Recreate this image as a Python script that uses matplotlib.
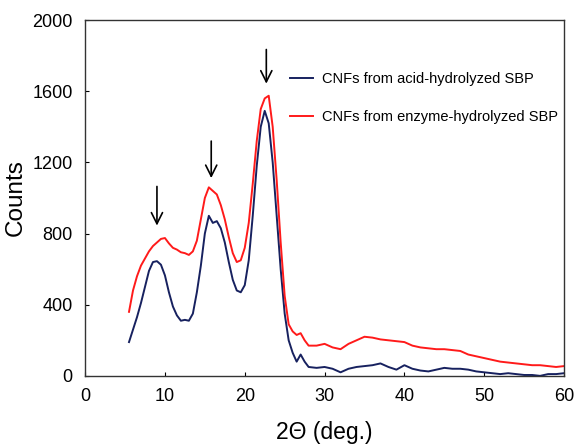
import matplotlib
matplotlib.use("Agg")
import matplotlib.pyplot as plt

plt.rcParams['font.family'] = ['Liberation Sans', 'DejaVu Sans']

acid_x = [5.5, 6, 6.5, 7, 7.5, 8, 8.5, 9, 9.5, 10, 10.5, 11, 11.5, 12, 12.5, 13, 13.5, 14, 14.5, 15,
          15.5, 16, 16.5, 17, 17.5, 18, 18.5, 19, 19.5, 20, 20.5, 21, 21.5, 22, 22.5, 23, 23.5, 24,
          24.5, 25, 25.5, 26, 26.5, 27, 27.5, 28, 29, 30, 31, 32, 33, 34, 35, 36, 37, 38, 39, 40,
          41, 42, 43, 44, 45, 46, 47, 48, 49, 50, 51, 52, 53, 54, 55, 56, 57, 58, 59, 60]
acid_y = [190, 260, 330, 410, 500, 590, 640, 645, 625, 565, 470, 390, 340, 310, 315, 310, 350, 470, 620, 800,
          900, 860, 870, 830, 750, 640, 540, 480, 470, 510, 650, 900, 1180, 1400, 1490, 1420, 1200, 900,
          600, 350, 200, 130, 80, 120, 80, 50, 45, 50, 40, 20, 40, 50, 55, 60, 70, 50, 35, 60,
          40, 30, 25, 35, 45, 40, 40, 35, 25, 20, 15, 10, 15, 10, 5, 5, 0, 10, 10, 15]

enz_x = [5.5, 6, 6.5, 7, 7.5, 8, 8.5, 9, 9.5, 10, 10.5, 11, 11.5, 12, 12.5, 13, 13.5, 14, 14.5, 15,
         15.5, 16, 16.5, 17, 17.5, 18, 18.5, 19, 19.5, 20, 20.5, 21, 21.5, 22, 22.5, 23, 23.5, 24,
         24.5, 25, 25.5, 26, 26.5, 27, 27.5, 28, 29, 30, 31, 32, 33, 34, 35, 36, 37, 38, 39, 40,
         41, 42, 43, 44, 45, 46, 47, 48, 49, 50, 51, 52, 53, 54, 55, 56, 57, 58, 59, 60]
enz_y = [360, 480, 560, 620, 660, 700, 730, 750, 770, 775, 745, 720, 710, 695, 690, 680, 700, 760, 880, 1000,
         1060, 1040, 1020, 960, 880, 780, 690, 640, 650, 720, 860, 1080, 1320, 1500, 1560, 1575, 1400, 1100,
         750, 450, 290, 250, 230, 240, 200, 170, 170, 180, 160, 150, 180, 200, 220, 215, 205, 200, 195, 190,
         170, 160, 155, 150, 150, 145, 140, 120, 110, 100, 90, 80, 75, 70, 65, 60, 60, 55, 50, 55]

arrow_x = [9.0, 15.8, 22.7]
arrow_top = [1065, 1320, 1835]
arrow_tip = [845, 1112, 1643]

labels = ['CNFs from acid-hydrolyzed SBP', 'CNFs from enzyme-hydrolyzed SBP']

fig = plt.figure(figsize=(5.75, 4.48), dpi=100)
ax = fig.add_axes([0.148, 0.161, 0.833, 0.794])

ax.plot(acid_x, acid_y, color='#17215f', lw=1.4, label=labels[0])
ax.plot(enz_x, enz_y, color='#ff1a1a', lw=1.4, label=labels[1])

for xa, yt, yb in zip(arrow_x, arrow_top, arrow_tip):
    ax.annotate('', xy=(xa, yb), xytext=(xa, yt),
                arrowprops=dict(arrowstyle='->', color='black', lw=1.2, mutation_scale=20,
                                shrinkA=0, shrinkB=0))

ax.set_xlim(0, 60)
ax.set_ylim(0, 2000)
ax.set_xticks([0, 10, 20, 30, 40, 50, 60])
ax.set_yticks([0, 400, 800, 1200, 1600, 2000])
ax.tick_params(direction='in', length=3, labelsize=13, pad=9)
for s in ax.spines.values():
    s.set_linewidth(1.0)
    s.set_color('#333333')

ax.set_xlabel('2Θ (deg.)', fontsize=16.5, labelpad=11)
ax.set_ylabel('Counts', fontsize=17.5, labelpad=4)

ax.legend(loc='upper left', bbox_to_anchor=(0.4, 0.89), frameon=False, fontsize=10.5,
          handlelength=1.6, labelspacing=1.6, handletextpad=0.6)

fig.savefig('out.png', dpi=100)
